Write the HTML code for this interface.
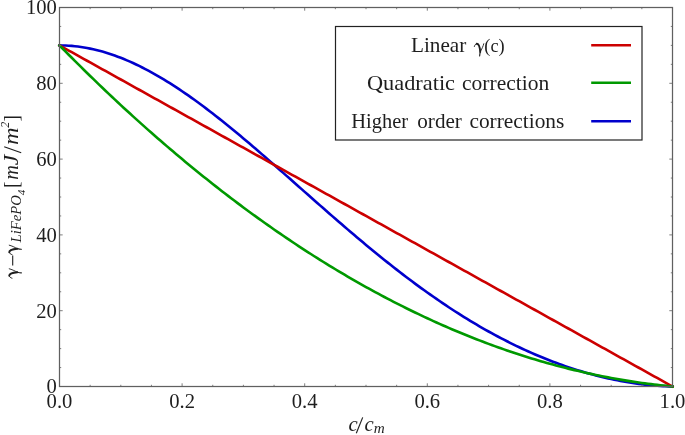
<!DOCTYPE html>
<html><head><meta charset="utf-8"><title>chart</title>
<style>
html,body{margin:0;padding:0;background:#fff;}
svg{display:block;font-family:"Liberation Serif",serif;}
</style></head><body>
<svg width="685" height="435" viewBox="0 0 685 435">
<defs><g id="gam" fill="none" stroke="#1e1e1e" stroke-linecap="round" stroke-linejoin="round">
<path d="M30,285 C47,355 85,412 150,423" stroke-width="48"/>
<path d="M150,420 C250,425 305,240 325,20" stroke-width="95"/>
<path d="M501,423 C470,300 400,150 328,20" stroke-width="45"/>
<path d="M328,20 C308,-60 292,-130 296,-185" stroke-width="58"/>
</g></defs>
<g fill="none" stroke-width="2.6" stroke-linecap="square" stroke-linejoin="round">
<path d="M59.50,45.40 L62.56,45.43 L65.63,45.53 L68.69,45.69 L71.76,45.92 L74.83,46.21 L77.89,46.57 L80.95,46.99 L84.02,47.46 L87.08,48.01 L90.15,48.61 L93.22,49.27 L96.28,49.99 L99.34,50.77 L102.41,51.61 L105.47,52.51 L108.54,53.46 L111.61,54.47 L114.67,55.54 L117.73,56.66 L120.80,57.83 L123.86,59.06 L126.93,60.33 L130.00,61.66 L133.06,63.04 L136.12,64.47 L139.19,65.95 L142.25,67.47 L145.32,69.04 L148.38,70.66 L151.45,72.32 L154.51,74.03 L157.58,75.78 L160.65,77.57 L163.71,79.40 L166.78,81.28 L169.84,83.19 L172.91,85.14 L175.97,87.13 L179.04,89.16 L182.10,91.22 L185.17,93.31 L188.23,95.44 L191.29,97.60 L194.36,99.80 L197.43,102.02 L200.49,104.27 L203.56,106.56 L206.62,108.87 L209.69,111.20 L212.75,113.57 L215.81,115.96 L218.88,118.37 L221.95,120.80 L225.01,123.26 L228.08,125.74 L231.14,128.24 L234.21,130.75 L237.27,133.29 L240.33,135.84 L243.40,138.41 L246.47,141.00 L249.53,143.59 L252.59,146.21 L255.66,148.83 L258.73,151.47 L261.79,154.12 L264.86,156.78 L267.92,159.44 L270.99,162.12 L274.05,164.80 L277.12,167.49 L280.18,170.19 L283.25,172.89 L286.31,175.60 L289.38,178.30 L292.44,181.01 L295.50,183.73 L298.57,186.44 L301.63,189.15 L304.70,191.87 L307.76,194.58 L310.83,197.29 L313.89,199.99 L316.96,202.69 L320.02,205.39 L323.09,208.09 L326.15,210.77 L329.22,213.45 L332.29,216.13 L335.35,218.80 L338.42,221.45 L341.48,224.10 L344.55,226.74 L347.61,229.37 L350.68,231.99 L353.74,234.60 L356.81,237.19 L359.87,239.78 L362.94,242.35 L366.00,244.90 L369.06,247.45 L372.13,249.97 L375.19,252.49 L378.26,254.98 L381.32,257.47 L384.39,259.93 L387.46,262.38 L390.52,264.81 L393.59,267.22 L396.65,269.62 L399.72,271.99 L402.78,274.35 L405.85,276.69 L408.91,279.01 L411.98,281.31 L415.04,283.59 L418.10,285.84 L421.17,288.08 L424.23,290.30 L427.30,292.49 L430.37,294.66 L433.43,296.81 L436.50,298.94 L439.56,301.04 L442.62,303.13 L445.69,305.19 L448.75,307.22 L451.82,309.23 L454.88,311.22 L457.95,313.19 L461.02,315.13 L464.08,317.05 L467.15,318.94 L470.21,320.81 L473.28,322.65 L476.34,324.47 L479.41,326.26 L482.47,328.03 L485.54,329.78 L488.60,331.50 L491.66,333.19 L494.73,334.86 L497.79,336.50 L500.86,338.12 L503.93,339.71 L506.99,341.28 L510.06,342.82 L513.12,344.34 L516.18,345.83 L519.25,347.29 L522.32,348.73 L525.38,350.14 L528.44,351.53 L531.51,352.89 L534.58,354.22 L537.64,355.53 L540.71,356.81 L543.77,358.07 L546.84,359.30 L549.90,360.50 L552.97,361.68 L556.03,362.83 L559.10,363.96 L562.16,365.06 L565.23,366.13 L568.29,367.18 L571.36,368.20 L574.42,369.19 L577.49,370.16 L580.55,371.10 L583.62,372.02 L586.68,372.91 L589.75,373.77 L592.81,374.61 L595.88,375.42 L598.94,376.20 L602.00,376.95 L605.07,377.68 L608.13,378.38 L611.20,379.06 L614.26,379.70 L617.33,380.32 L620.39,380.91 L623.46,381.48 L626.52,382.01 L629.59,382.52 L632.66,383.00 L635.72,383.45 L638.79,383.87 L641.85,384.26 L644.92,384.62 L647.98,384.96 L651.04,385.26 L654.11,385.53 L657.17,385.77 L660.24,385.98 L663.30,386.16 L666.37,386.31 L669.43,386.42 L672.50,386.50" stroke="#0000cc"/>
<path d="M59.50,45.40 L62.56,47.11 L65.63,48.81 L68.69,50.52 L71.76,52.22 L74.83,53.93 L77.89,55.63 L80.95,57.34 L84.02,59.04 L87.08,60.75 L90.15,62.45 L93.22,64.16 L96.28,65.87 L99.34,67.57 L102.41,69.28 L105.47,70.98 L108.54,72.69 L111.61,74.39 L114.67,76.10 L117.73,77.80 L120.80,79.51 L123.86,81.22 L126.93,82.92 L130.00,84.63 L133.06,86.33 L136.12,88.04 L139.19,89.74 L142.25,91.45 L145.32,93.15 L148.38,94.86 L151.45,96.56 L154.51,98.27 L157.58,99.98 L160.65,101.68 L163.71,103.39 L166.78,105.09 L169.84,106.80 L172.91,108.50 L175.97,110.21 L179.04,111.91 L182.10,113.62 L185.17,115.33 L188.23,117.03 L191.29,118.74 L194.36,120.44 L197.43,122.15 L200.49,123.85 L203.56,125.56 L206.62,127.26 L209.69,128.97 L212.75,130.68 L215.81,132.38 L218.88,134.09 L221.95,135.79 L225.01,137.50 L228.08,139.20 L231.14,140.91 L234.21,142.61 L237.27,144.32 L240.33,146.02 L243.40,147.73 L246.47,149.44 L249.53,151.14 L252.59,152.85 L255.66,154.55 L258.73,156.26 L261.79,157.96 L264.86,159.67 L267.92,161.37 L270.99,163.08 L274.05,164.79 L277.12,166.49 L280.18,168.20 L283.25,169.90 L286.31,171.61 L289.38,173.31 L292.44,175.02 L295.50,176.72 L298.57,178.43 L301.63,180.13 L304.70,181.84 L307.76,183.55 L310.83,185.25 L313.89,186.96 L316.96,188.66 L320.02,190.37 L323.09,192.07 L326.15,193.78 L329.22,195.48 L332.29,197.19 L335.35,198.89 L338.42,200.60 L341.48,202.31 L344.55,204.01 L347.61,205.72 L350.68,207.42 L353.74,209.13 L356.81,210.83 L359.87,212.54 L362.94,214.24 L366.00,215.95 L369.06,217.66 L372.13,219.36 L375.19,221.07 L378.26,222.77 L381.32,224.48 L384.39,226.18 L387.46,227.89 L390.52,229.59 L393.59,231.30 L396.65,233.01 L399.72,234.71 L402.78,236.42 L405.85,238.12 L408.91,239.83 L411.98,241.53 L415.04,243.24 L418.10,244.94 L421.17,246.65 L424.23,248.35 L427.30,250.06 L430.37,251.77 L433.43,253.47 L436.50,255.18 L439.56,256.88 L442.62,258.59 L445.69,260.29 L448.75,262.00 L451.82,263.70 L454.88,265.41 L457.95,267.12 L461.02,268.82 L464.08,270.53 L467.15,272.23 L470.21,273.94 L473.28,275.64 L476.34,277.35 L479.41,279.05 L482.47,280.76 L485.54,282.46 L488.60,284.17 L491.66,285.88 L494.73,287.58 L497.79,289.29 L500.86,290.99 L503.93,292.70 L506.99,294.40 L510.06,296.11 L513.12,297.81 L516.18,299.52 L519.25,301.23 L522.32,302.93 L525.38,304.64 L528.44,306.34 L531.51,308.05 L534.58,309.75 L537.64,311.46 L540.71,313.16 L543.77,314.87 L546.84,316.57 L549.90,318.28 L552.97,319.99 L556.03,321.69 L559.10,323.40 L562.16,325.10 L565.23,326.81 L568.29,328.51 L571.36,330.22 L574.42,331.92 L577.49,333.63 L580.55,335.33 L583.62,337.04 L586.68,338.75 L589.75,340.45 L592.81,342.16 L595.88,343.86 L598.94,345.57 L602.00,347.27 L605.07,348.98 L608.13,350.68 L611.20,352.39 L614.26,354.10 L617.33,355.80 L620.39,357.51 L623.46,359.21 L626.52,360.92 L629.59,362.62 L632.66,364.33 L635.72,366.03 L638.79,367.74 L641.85,369.45 L644.92,371.15 L647.98,372.86 L651.04,374.56 L654.11,376.27 L657.17,377.97 L660.24,379.68 L663.30,381.38 L666.37,383.09 L669.43,384.79 L672.50,386.50" stroke="#cc0000"/>
<path d="M59.50,45.40 L62.56,48.52 L65.63,51.63 L68.69,54.72 L71.76,57.79 L74.83,60.86 L77.89,63.90 L80.95,66.94 L84.02,69.96 L87.08,72.97 L90.15,75.96 L93.22,78.93 L96.28,81.90 L99.34,84.85 L102.41,87.78 L105.47,90.70 L108.54,93.61 L111.61,96.50 L114.67,99.38 L117.73,102.24 L120.80,105.09 L123.86,107.93 L126.93,110.75 L130.00,113.56 L133.06,116.35 L136.12,119.13 L139.19,121.89 L142.25,124.64 L145.32,127.38 L148.38,130.10 L151.45,132.81 L154.51,135.50 L157.58,138.18 L160.65,140.84 L163.71,143.49 L166.78,146.13 L169.84,148.75 L172.91,151.36 L175.97,153.96 L179.04,156.53 L182.10,159.10 L185.17,161.65 L188.23,164.19 L191.29,166.71 L194.36,169.22 L197.43,171.71 L200.49,174.19 L203.56,176.66 L206.62,179.11 L209.69,181.55 L212.75,183.97 L215.81,186.38 L218.88,188.78 L221.95,191.16 L225.01,193.52 L228.08,195.87 L231.14,198.21 L234.21,200.54 L237.27,202.85 L240.33,205.14 L243.40,207.42 L246.47,209.69 L249.53,211.94 L252.59,214.18 L255.66,216.40 L258.73,218.61 L261.79,220.81 L264.86,222.99 L267.92,225.16 L270.99,227.31 L274.05,229.45 L277.12,231.58 L280.18,233.69 L283.25,235.78 L286.31,237.87 L289.38,239.93 L292.44,241.99 L295.50,244.03 L298.57,246.05 L301.63,248.06 L304.70,250.06 L307.76,252.04 L310.83,254.01 L313.89,255.97 L316.96,257.91 L320.02,259.83 L323.09,261.74 L326.15,263.64 L329.22,265.52 L332.29,267.39 L335.35,269.25 L338.42,271.09 L341.48,272.91 L344.55,274.73 L347.61,276.52 L350.68,278.31 L353.74,280.08 L356.81,281.83 L359.87,283.57 L362.94,285.30 L366.00,287.01 L369.06,288.71 L372.13,290.40 L375.19,292.07 L378.26,293.72 L381.32,295.36 L384.39,296.99 L387.46,298.60 L390.52,300.20 L393.59,301.79 L396.65,303.36 L399.72,304.91 L402.78,306.46 L405.85,307.98 L408.91,309.50 L411.98,311.00 L415.04,312.48 L418.10,313.95 L421.17,315.41 L424.23,316.85 L427.30,318.28 L430.37,319.69 L433.43,321.09 L436.50,322.48 L439.56,323.85 L442.62,325.21 L445.69,326.55 L448.75,327.88 L451.82,329.20 L454.88,330.50 L457.95,331.78 L461.02,333.05 L464.08,334.31 L467.15,335.56 L470.21,336.78 L473.28,338.00 L476.34,339.20 L479.41,340.39 L482.47,341.56 L485.54,342.72 L488.60,343.86 L491.66,344.99 L494.73,346.11 L497.79,347.21 L500.86,348.30 L503.93,349.37 L506.99,350.43 L510.06,351.47 L513.12,352.50 L516.18,353.52 L519.25,354.52 L522.32,355.51 L525.38,356.48 L528.44,357.44 L531.51,358.39 L534.58,359.32 L537.64,360.24 L540.71,361.14 L543.77,362.03 L546.84,362.90 L549.90,363.76 L552.97,364.61 L556.03,365.44 L559.10,366.25 L562.16,367.06 L565.23,367.85 L568.29,368.62 L571.36,369.38 L574.42,370.13 L577.49,370.86 L580.55,371.58 L583.62,372.28 L586.68,372.97 L589.75,373.64 L592.81,374.31 L595.88,374.95 L598.94,375.58 L602.00,376.20 L605.07,376.81 L608.13,377.40 L611.20,377.97 L614.26,378.53 L617.33,379.08 L620.39,379.61 L623.46,380.13 L626.52,380.64 L629.59,381.13 L632.66,381.60 L635.72,382.07 L638.79,382.51 L641.85,382.95 L644.92,383.37 L647.98,383.77 L651.04,384.16 L654.11,384.54 L657.17,384.90 L660.24,385.25 L663.30,385.58 L666.37,385.90 L669.43,386.21 L672.50,386.50" stroke="#009900"/>
</g>
<path d="M59.50,386.50v-3.2 M59.50,7.50v3.2 M90.15,386.50v-1.7 M90.15,7.50v1.7 M120.80,386.50v-1.7 M120.80,7.50v1.7 M151.45,386.50v-1.7 M151.45,7.50v1.7 M182.10,386.50v-3.2 M182.10,7.50v3.2 M212.75,386.50v-1.7 M212.75,7.50v1.7 M243.40,386.50v-1.7 M243.40,7.50v1.7 M274.05,386.50v-1.7 M274.05,7.50v1.7 M304.70,386.50v-3.2 M304.70,7.50v3.2 M335.35,386.50v-1.7 M335.35,7.50v1.7 M366.00,386.50v-1.7 M366.00,7.50v1.7 M396.65,386.50v-1.7 M396.65,7.50v1.7 M427.30,386.50v-3.2 M427.30,7.50v3.2 M457.95,386.50v-1.7 M457.95,7.50v1.7 M488.60,386.50v-1.7 M488.60,7.50v1.7 M519.25,386.50v-1.7 M519.25,7.50v1.7 M549.90,386.50v-3.2 M549.90,7.50v3.2 M580.55,386.50v-1.7 M580.55,7.50v1.7 M611.20,386.50v-1.7 M611.20,7.50v1.7 M641.85,386.50v-1.7 M641.85,7.50v1.7 M672.50,386.50v-3.2 M672.50,7.50v3.2 M59.50,386.50h3.2 M672.50,386.50h-3.2 M59.50,367.55h1.7 M672.50,367.55h-1.7 M59.50,348.60h1.7 M672.50,348.60h-1.7 M59.50,329.65h1.7 M672.50,329.65h-1.7 M59.50,310.70h3.2 M672.50,310.70h-3.2 M59.50,291.75h1.7 M672.50,291.75h-1.7 M59.50,272.80h1.7 M672.50,272.80h-1.7 M59.50,253.85h1.7 M672.50,253.85h-1.7 M59.50,234.90h3.2 M672.50,234.90h-3.2 M59.50,215.95h1.7 M672.50,215.95h-1.7 M59.50,197.00h1.7 M672.50,197.00h-1.7 M59.50,178.05h1.7 M672.50,178.05h-1.7 M59.50,159.10h3.2 M672.50,159.10h-3.2 M59.50,140.15h1.7 M672.50,140.15h-1.7 M59.50,121.20h1.7 M672.50,121.20h-1.7 M59.50,102.25h1.7 M672.50,102.25h-1.7 M59.50,83.30h3.2 M672.50,83.30h-3.2 M59.50,64.35h1.7 M672.50,64.35h-1.7 M59.50,45.40h1.7 M672.50,45.40h-1.7 M59.50,26.45h1.7 M672.50,26.45h-1.7 M59.50,7.50h3.2 M672.50,7.50h-3.2" stroke="#707070" stroke-width="0.9" fill="none"/>
<rect x="59.5" y="7.5" width="613.0" height="379.0" fill="none" stroke="#606060" stroke-width="1.25"/>
<g fill="#1e1e1e" style="mix-blend-mode:multiply"><text x="59.50" y="407.70" font-size="20px" text-anchor="middle" textLength="25.80" lengthAdjust="spacingAndGlyphs">0.0</text><text x="182.10" y="407.70" font-size="20px" text-anchor="middle" textLength="25.80" lengthAdjust="spacingAndGlyphs">0.2</text><text x="304.70" y="407.70" font-size="20px" text-anchor="middle" textLength="25.80" lengthAdjust="spacingAndGlyphs">0.4</text><text x="427.30" y="407.70" font-size="20px" text-anchor="middle" textLength="25.80" lengthAdjust="spacingAndGlyphs">0.6</text><text x="549.90" y="407.70" font-size="20px" text-anchor="middle" textLength="25.80" lengthAdjust="spacingAndGlyphs">0.8</text><text x="672.50" y="407.70" font-size="20px" text-anchor="middle" textLength="25.80" lengthAdjust="spacingAndGlyphs">1.0</text><text x="56.90" y="393.40" font-size="20px" text-anchor="end" textLength="10.30" lengthAdjust="spacingAndGlyphs">0</text><text x="56.90" y="317.60" font-size="20px" text-anchor="end" textLength="20.60" lengthAdjust="spacingAndGlyphs">20</text><text x="56.90" y="241.80" font-size="20px" text-anchor="end" textLength="20.60" lengthAdjust="spacingAndGlyphs">40</text><text x="56.90" y="166.00" font-size="20px" text-anchor="end" textLength="20.60" lengthAdjust="spacingAndGlyphs">60</text><text x="56.90" y="90.20" font-size="20px" text-anchor="end" textLength="20.60" lengthAdjust="spacingAndGlyphs">80</text><text x="56.90" y="14.40" font-size="20px" text-anchor="end" textLength="30.90" lengthAdjust="spacingAndGlyphs">100</text></g>
<rect x="335.5" y="26.5" width="306.5" height="113.5" fill="#fff" stroke="#222" stroke-width="1.2"/>
<g stroke-width="2.6" fill="none">
<path d="M591.2,45.3 H631" stroke="#cc0000"/>
<path d="M591.2,82.8 H631" stroke="#009900"/>
<path d="M591.2,121.2 H631" stroke="#0000cc"/>
</g>
<g fill="#1e1e1e" style="mix-blend-mode:multiply"><text x="411.00" y="52.20" font-size="20.6px" textLength="55.30" lengthAdjust="spacingAndGlyphs">Linear</text><use href="#gam" transform="translate(473.75,52.20) scale(0.02,-0.02)"/><text x="484.30" y="52.00" font-size="18.5px" textLength="20.40" lengthAdjust="spacingAndGlyphs">(c)</text><text x="367.00" y="89.80" font-size="20.6px" textLength="88.00" lengthAdjust="spacingAndGlyphs">Quadratic</text><text x="462.00" y="89.80" font-size="20.6px" textLength="87.20" lengthAdjust="spacingAndGlyphs">correction</text><text x="351.30" y="127.60" font-size="20.6px" textLength="56.80" lengthAdjust="spacingAndGlyphs">Higher</text><text x="417.30" y="127.60" font-size="20.6px" textLength="44.60" lengthAdjust="spacingAndGlyphs">order</text><text x="469.40" y="127.60" font-size="20.6px" textLength="95.00" lengthAdjust="spacingAndGlyphs">corrections</text></g>
<g fill="#1e1e1e" style="mix-blend-mode:multiply"><text x="348.60" y="430.80" font-size="20px" textLength="9.20" lengthAdjust="spacingAndGlyphs" font-style="italic">c</text><path d="M356.3,433.3 L362.7,417.4" stroke="#1e1e1e" stroke-width="1.15" fill="none"/><text x="364.60" y="430.80" font-size="20px" textLength="9.20" lengthAdjust="spacingAndGlyphs" font-style="italic">c</text><text x="373.80" y="433.30" font-size="14px" textLength="11.00" lengthAdjust="spacingAndGlyphs" font-style="italic">m</text></g>
<g transform="translate(0,278.6) rotate(-90)" fill="#1e1e1e" style="mix-blend-mode:multiply"><use href="#gam" transform="translate(-0.20,17.70) scale(0.02,-0.02)"/><path d="M13.2,12.7 H23" stroke="#1e1e1e" stroke-width="1.1" fill="none"/><use href="#gam" transform="translate(23.40,17.70) scale(0.02,-0.02)"/><text x="36.20" y="21.00" font-size="14px" textLength="47.20" lengthAdjust="spacingAndGlyphs" font-style="italic">LiFePO</text><text x="83.40" y="24.60" font-size="10.5px" textLength="5.60" lengthAdjust="spacingAndGlyphs" font-style="italic">4</text><text x="90.50" y="18.00" font-size="21.2px" textLength="6.50" lengthAdjust="spacingAndGlyphs">[</text><text x="98.90" y="17.70" font-size="20px" textLength="14.60" lengthAdjust="spacingAndGlyphs" font-style="italic">m</text><text x="113.40" y="17.70" font-size="20px" textLength="10.50" lengthAdjust="spacingAndGlyphs" font-style="italic">J</text><path d="M125.8,21.2 L131.8,4.2" stroke="#1e1e1e" stroke-width="1.15" fill="none"/><text x="133.60" y="18.00" font-size="20px" textLength="17.60" lengthAdjust="spacingAndGlyphs" font-style="italic">m</text><text x="150.90" y="9.00" font-size="13px" textLength="6.00" lengthAdjust="spacingAndGlyphs" font-style="italic">2</text><text x="157.20" y="18.00" font-size="21.2px" textLength="6.50" lengthAdjust="spacingAndGlyphs">]</text></g>
</svg>
</body></html>
